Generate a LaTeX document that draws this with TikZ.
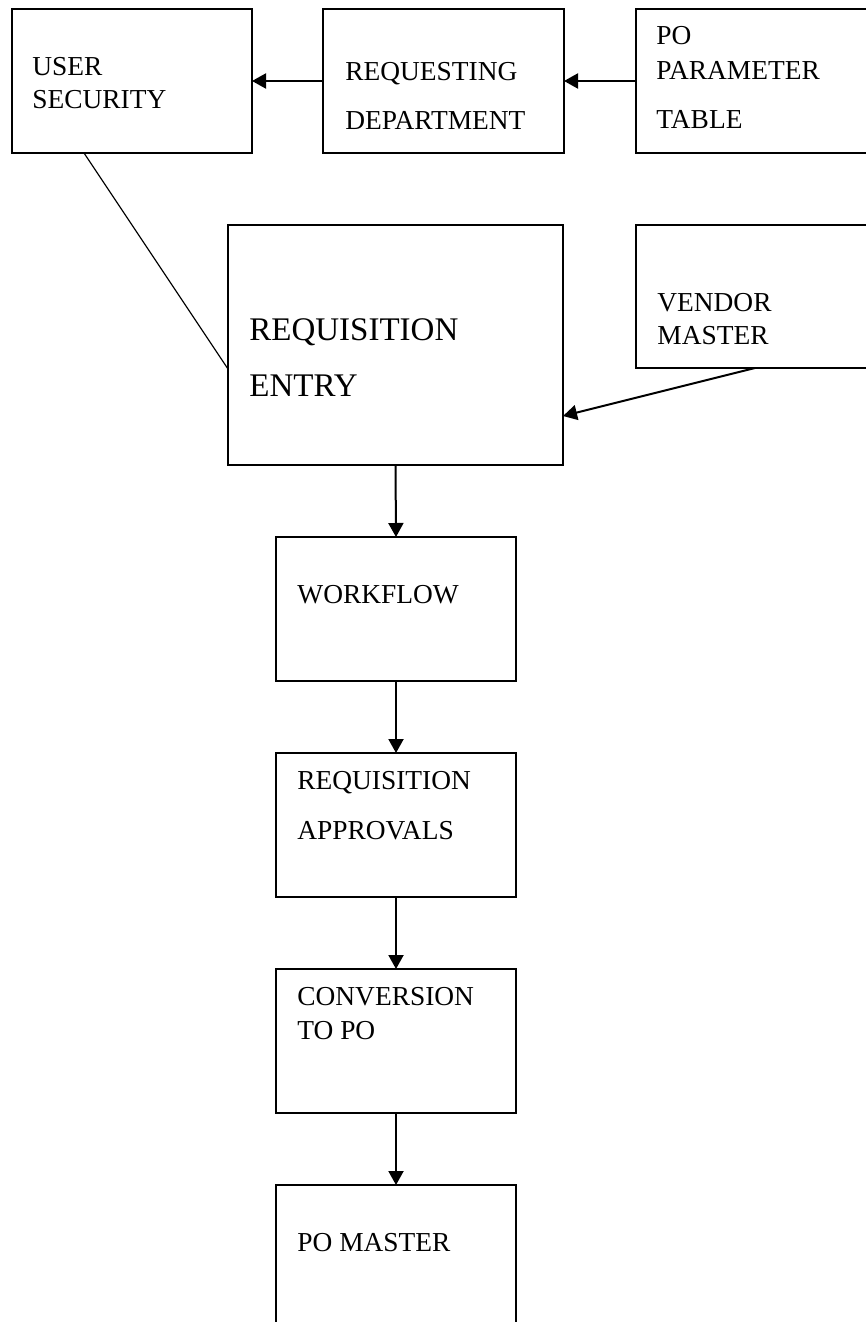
\documentclass[tikz,border=0pt]{standalone}
\usepackage{fontspec}
\setmainfont{Liberation Serif}
\usetikzlibrary{arrows.meta,calc}

\newcommand{\lblfont}{\fontsize{13.7}{16}\selectfont}
\newcommand{\bigfont}{\fontsize{16.5}{19}\selectfont}

\begin{document}
\begin{tikzpicture}[x=0.5pt,y=-0.5pt,
  box/.style={draw, line width=1pt, anchor=north west, inner sep=0pt, outer sep=0pt},
  lbl/.style={anchor=base west, inner sep=0pt, font=\lblfont},
  biglbl/.style={anchor=base west, inner sep=0pt, font=\bigfont},
  flow/.style={line width=1pt, -{Triangle[length=7pt,width=7.5pt]}},
  thin link/.style={line width=0.6pt}]

\useasboundingbox (0,0) rectangle (866,1322);

% boxes
\node[box, minimum width=120pt, minimum height=72pt] (us) at (12,9) {};
\node[box, minimum width=120.5pt, minimum height=72pt] (rd) at (323,9) {};
\node[box, minimum width=117pt, minimum height=72pt] (pp) at (636,9) {};
\node[box, minimum width=167.5pt, minimum height=120pt] (re) at (228,225) {};
\node[box, minimum width=117pt, minimum height=71.5pt] (vm) at (636,225) {};
\node[box, minimum width=120pt, minimum height=72pt] (wf) at (276,537) {};
\node[box, minimum width=120pt, minimum height=72pt] (ra) at (276,753) {};
\node[box, minimum width=120pt, minimum height=72pt] (cp) at (276,969) {};
\node[box, minimum width=120pt, minimum height=80pt] (pm) at (276,1185) {};

% labels
\node[lbl] (us1) at (32,76) {USER};
\node[lbl] (us2) at (32,109) {SECURITY};
\node[lbl] (rd1) at (345,81) {REQUESTING};
\node[lbl] (rd2) at (345,130) {DEPARTMENT};
\node[lbl] (pp1) at (656,45) {PO};
\node[lbl] (pp2) at (656,80) {PARAMETER};
\node[lbl] (pp3) at (656,128) {TABLE};
\node[biglbl] (re1) at (249,340) {REQUISITION};
\node[biglbl] (re2) at (249,396) {ENTRY};
\node[lbl] (vm1) at (657,311) {VENDOR};
\node[lbl] (vm2) at (657,344) {MASTER};
\node[lbl] (wf1) at (297,603) {WORKFLOW};
\node[lbl] (ra1) at (297,789) {REQUISITION};
\node[lbl] (ra2) at (297,839) {APPROVALS};
\node[lbl] (cp1) at (297,1005) {CONVERSION};
\node[lbl] (cp2) at (297,1039) {TO PO};
\node[lbl] (pm1) at (297,1251) {PO MASTER};

% connectors
\draw[flow] (pp.west) -- (rd.east);
\draw[flow] (rd.west) -- (us.east);
\draw[thin link] ($(us.south west)+(72,0)$) -- ($(re.north west)+(0,144)$);
\draw[flow] ($(vm.south west)+(119,0)$) -- ($(re.south east)+(0,-49)$);
\draw[flow] (re.south) -- (wf.north);
\draw[flow] (wf.south) -- (ra.north);
\draw[flow] (ra.south) -- (cp.north);
\draw[flow] (cp.south) -- (pm.north);
\end{tikzpicture}
\end{document}
